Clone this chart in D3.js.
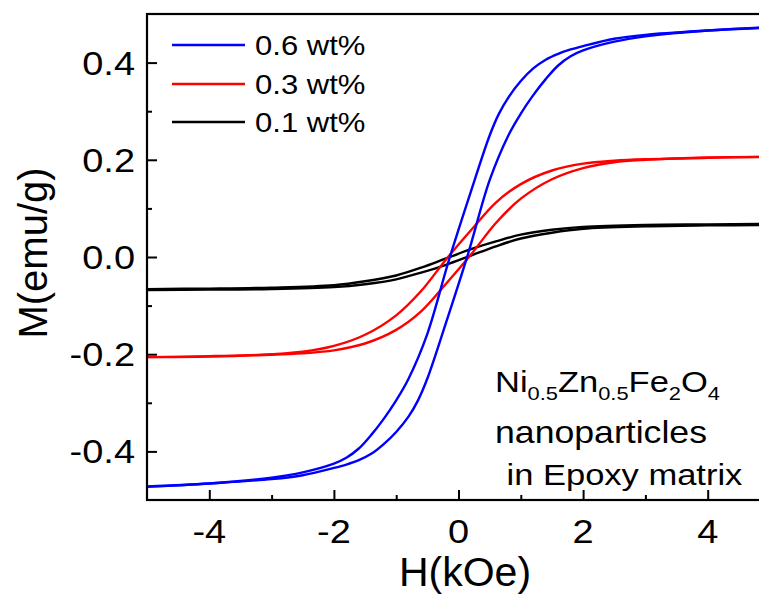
<!DOCTYPE html>
<html><head><meta charset="utf-8">
<script src="https://cdn.jsdelivr.net/npm/d3@7"></script>
<style>body{margin:0;background:#fff}svg{display:block;font-family:Arial,"Liberation Sans",sans-serif}</style>
</head><body><svg id="c" width="759" height="594"></svg>
<script>
// ---- data ----
const seriesNames = ["0.6 wt%", "0.3 wt%", "0.1 wt%"];
const seriesColors = ["#0000ff", "#ff0000", "#000000"];
// field values (kOe) and magnetization (emu/g), upper (descending-field) and lower (ascending-field) branches
const blueUpperH = [-5, -4, -3, -2.5, -2, -1.8, -1.6, -1.4, -1.2, -1.0, -0.8, -0.5, -0.15, 0.2, 0.5, 0.65, 0.8, 1.0, 1.2, 1.4, 1.6, 1.8, 2, 2.5, 3, 4, 5];
const blueUpperM = [-0.472, -0.466, -0.454, -0.443, -0.425, -0.413, -0.394, -0.366, -0.333, -0.295, -0.25, -0.158, -0.005, 0.135, 0.25, 0.295, 0.328, 0.362, 0.388, 0.406, 0.418, 0.427, 0.434, 0.449, 0.457, 0.466, 0.473];
const blueLowerH = [-5, -4, -3, -2.5, -2, -1.8, -1.6, -1.4, -1.2, -1.0, -0.8, -0.65, -0.5, -0.2, 0.15, 0.5, 0.8, 1.0, 1.2, 1.4, 1.6, 1.8, 2, 2.5, 3, 4, 5];
const blueLowerM = [-0.473, -0.466, -0.457, -0.449, -0.434, -0.427, -0.418, -0.405, -0.385, -0.36, -0.328, -0.295, -0.25, -0.135, 0.005, 0.158, 0.25, 0.295, 0.333, 0.366, 0.394, 0.413, 0.425, 0.443, 0.454, 0.466, 0.472];
const redUpperH = [-5, -4, -3, -2.5, -2, -1.5, -1.0, -0.6, -0.2, 0.2, 0.6, 1.0, 1.5, 2, 2.5, 3, 4, 5];
const redUpperM = [-0.206, -0.205, -0.2, -0.195, -0.183, -0.16, -0.12, -0.07, -0.005, 0.055, 0.112, 0.15, 0.178, 0.192, 0.198, 0.201, 0.204, 0.206];
const redLowerH = [-5, -4, -3, -2.5, -2, -1.5, -1.0, -0.6, -0.2, 0.2, 0.6, 1.0, 1.5, 2, 2.5, 3, 4, 5];
const redLowerM = [-0.206, -0.204, -0.201, -0.198, -0.192, -0.178, -0.15, -0.112, -0.055, 0.005, 0.07, 0.12, 0.16, 0.183, 0.195, 0.2, 0.205, 0.206];
const blackUpperH = [-5, -4, -3, -2, -1.5, -1, -0.6, -0.2, 0.2, 0.6, 1, 1.5, 2, 3, 4, 5];
const blackUpperM = [-0.066, -0.065, -0.063, -0.058, -0.05, -0.038, -0.022, -0.003, 0.016, 0.032, 0.046, 0.056, 0.062, 0.066, 0.067, 0.068];
const blackLowerH = [-5, -4, -3, -2, -1.5, -1, -0.6, -0.2, 0.2, 0.6, 1, 1.5, 2, 3, 4, 5];
const blackLowerM = [-0.068, -0.067, -0.066, -0.062, -0.056, -0.046, -0.032, -0.016, 0.003, 0.022, 0.038, 0.05, 0.058, 0.063, 0.065, 0.066];
const xTicks = [-4, -2, 0, 2, 4];
const xMinorTicks = [-3, -1, 1, 3];
const yTicks = [-0.4, -0.2, 0.0, 0.2, 0.4];
const yMinorTicks = [-0.3, -0.1, 0.1, 0.3];
const xTickLabels = ["-4", "-2", "0", "2", "4"];
const yTickLabels = ["-0.4", "-0.2", "0.0", "0.2", "0.4"];

// ---- chart ----
const svg = d3.select("#c");
const x = d3.scaleLinear().domain([-5, 5]).range([147, 770]);
const y = d3.scaleLinear().domain([-0.5, 0.5]).range([500, 14]);
const SX = 1.15;

const series = [
  [d3.zip(blueUpperH, blueUpperM), d3.zip(blueLowerH, blueLowerM)],
  [d3.zip(redUpperH, redUpperM), d3.zip(redLowerH, redLowerM)],
  [d3.zip(blackUpperH, blackUpperM), d3.zip(blackLowerH, blackLowerM)]
];
const line = d3.line().x(d => x(d[0])).y(d => y(d[1])).curve(d3.curveCatmullRom.alpha(0.5));
[2, 1, 0].forEach(i => {
  series[i].forEach(br => {
    svg.append("path").attr("d", line(br)).attr("fill", "none")
      .attr("stroke", seriesColors[i]).attr("stroke-width", 2.4);
  });
});

// frame
svg.append("rect").attr("x", x(-5)).attr("y", y(0.5)).attr("width", x(5) - x(-5)).attr("height", y(-0.5) - y(0.5))
  .attr("fill", "none").attr("stroke", "#000").attr("stroke-width", 2.2);

// ticks (inward)
const gx = svg.append("g").attr("transform", `translate(0,${y(-0.5)})`);
gx.call(d3.axisBottom(x).tickValues(xTicks).tickSize(-10).tickFormat(""));
const gxm = svg.append("g").attr("transform", `translate(0,${y(-0.5)})`);
gxm.call(d3.axisBottom(x).tickValues(xMinorTicks).tickSize(-5).tickFormat(""));
const gy = svg.append("g").attr("transform", `translate(${x(-5)},0)`);
gy.call(d3.axisLeft(y).tickValues(yTicks).tickSize(-10).tickFormat(""));
const gym = svg.append("g").attr("transform", `translate(${x(-5)},0)`);
gym.call(d3.axisLeft(y).tickValues(yMinorTicks).tickSize(-5).tickFormat(""));
svg.selectAll(".domain").remove();
svg.selectAll(".tick line").attr("stroke", "#000").attr("stroke-width", 2);

function stext(px, py, txt, size, anchor) {
  const g = svg.append("g").attr("transform", `translate(${px},${py}) scale(${SX},1)`);
  return g.append("text").attr("font-size", size).attr("text-anchor", anchor || "start").attr("fill", "#000").text(txt);
}
xTicks.forEach((v, i) => stext(x(v), 543, xTickLabels[i], 33, "middle"));
yTicks.forEach((v, i) => stext(135, y(v) + 12, yTickLabels[i], 33, "end"));

// axis titles
svg.append("text").attr("x", 465).attr("y", 586).attr("text-anchor", "middle").attr("font-size", 41).text("H(kOe)");
svg.append("text").attr("transform", `translate(47,253) rotate(-90)`).attr("text-anchor", "middle").attr("font-size", 40).text("M(emu/g)");

// legend
const legY = [45, 84, 122];
seriesNames.forEach((n, i) => {
  svg.append("line").attr("x1", 172).attr("x2", 245).attr("y1", legY[i]).attr("y2", legY[i])
    .attr("stroke", seriesColors[i]).attr("stroke-width", 2.6);
  stext(255, legY[i] + 9.5, n, 27, "start");
});

// annotation
const a1 = svg.append("g").attr("transform", `translate(495,392) scale(${SX},1)`)
  .append("text").attr("font-size", 30);
[["Ni", 0], ["0.5", 1], ["Zn", 0], ["0.5", 1], ["Fe", 0], ["2", 1], ["O", 0], ["4", 1]].forEach(([t, sub]) => {
  const ts = a1.append("tspan").text(t);
  if (sub) ts.attr("font-size", 19).attr("dy", 8); else ts.attr("dy", a1.selectAll("tspan").size() > 1 ? -8 : 0);
});
stext(495, 443, "nanoparticles", 31, "start");
stext(497, 485, " in Epoxy matrix", 30, "start").attr("xml:space", "preserve").style("white-space", "pre");
</script></body></html>
